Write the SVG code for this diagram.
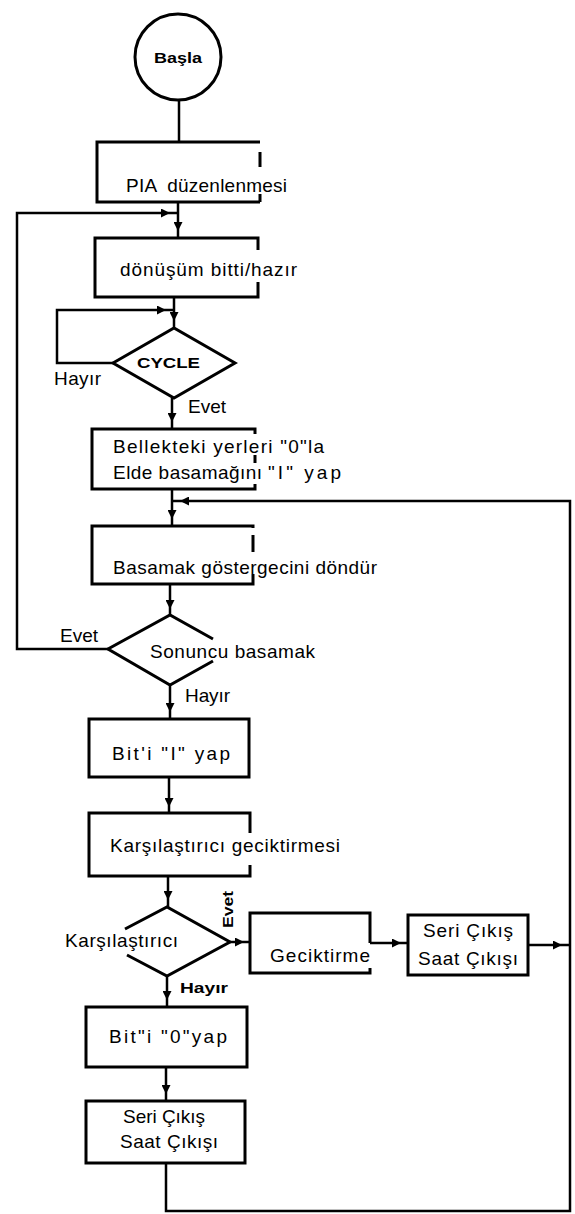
<svg xmlns="http://www.w3.org/2000/svg" width="575" height="1214" viewBox="0 0 575 1214">
<style>
.shape{fill:none;stroke:#000;stroke-width:3;stroke-linejoin:miter}
.conn{fill:none;stroke:#000;stroke-width:2.5}
.arr{marker-mid:url(#ah)}
.t{font-family:"Liberation Sans",Arial,sans-serif;font-size:19px;fill:#000}
.b{font-family:"Liberation Sans",Arial,sans-serif;font-weight:bold;fill:#000}
</style>
<defs>
<marker id="ah" viewBox="0 0 10 10" refX="10" refY="5" markerWidth="10" markerHeight="9" markerUnits="userSpaceOnUse" orient="auto">
<path d="M0,0 L10,5 L0,10 Z" fill="#000"/>
</marker>
</defs>
<rect width="575" height="1214" fill="#fff"/>

<g id="connectors">
<path class="conn" d="M179,100 V142"/>
<path class="conn arr" d="M178,202 V231 V238"/>
<path class="conn" d="M108,649 H17 V213 H120"/>
<path class="conn arr" d="M120,213 H170 H178"/>
<path class="conn arr" d="M174,297 V321 V328"/>
<path class="conn" d="M113,363 H57 V310 H110"/>
<path class="conn arr" d="M110,310 H166 H174"/>
<path class="conn arr" d="M172,398 V422 V429"/>
<path class="conn arr" d="M172,489 V519 V526"/>
<path class="conn" d="M166,1163 V1211 H570 V501 H230"/>
<path class="conn arr" d="M230,501 H180 H172"/>
<path class="conn arr" d="M170,584 V609 V615"/>
<path class="conn arr" d="M170,685 V712 V719"/>
<path class="conn arr" d="M169,777 V807 V813"/>
<path class="conn arr" d="M168,876 V900 V907"/>
<path class="conn arr" d="M230,942 H244 H250"/>
<path class="conn arr" d="M370,943 H401 H408"/>
<path class="conn arr" d="M528,945 H562 H570"/>
<path class="conn arr" d="M167,976 V1000 V1007"/>
<path class="conn arr" d="M166,1067 V1094 V1101"/>
</g>

<g id="start">
<circle cx="178" cy="57" r="43" class="shape" stroke-width="2.5"/>
<text class="b" x="154" y="63" font-size="15" textLength="48" lengthAdjust="spacingAndGlyphs">Başla</text>
</g>

<g id="pia">
<path class="shape" d="M260,142 H97 V202 H260 M260,152 V167 M260,194 V202"/>
<text class="t" x="126" y="192" textLength="161" lengthAdjust="spacing" xml:space="preserve">PIA  düzenlenmesi</text>
</g>

<g id="donusum">
<path class="shape" d="M258,250 V238 H95 V297 H258 V282"/>
<text class="t" x="120" y="276" textLength="177" lengthAdjust="spacing">dönüşüm bitti/hazır</text>
</g>

<g id="cycle">
<polygon class="shape" points="113,363 174,328 235,363 174,398"/>
<text class="b" x="137" y="368" font-size="15" textLength="63" lengthAdjust="spacingAndGlyphs">CYCLE</text>
<text class="t" x="54" y="385" font-size="18" textLength="47" lengthAdjust="spacing">Hayır</text>
<text class="t" x="188" y="413" font-size="18" textLength="38" lengthAdjust="spacing">Evet</text>
</g>

<g id="bellek">
<path class="shape" d="M255,434 V429 H92 V489 H255 V484 M255,455 V463"/>
<text class="t" x="113" y="453" textLength="211" lengthAdjust="spacing">Bellekteki yerleri "0"la</text>
<text class="t" y="479"><tspan x="113" textLength="149" lengthAdjust="spacing">Elde basamağını</tspan><tspan x="268" textLength="73" lengthAdjust="spacing">"I" yap</tspan></text>
</g>

<g id="basamak">
<path class="shape" d="M253,528 V526 H92 V584 H253 V574 M253,535 V552"/>
<text class="t" x="113" y="574" textLength="264" lengthAdjust="spacing">Basamak göstergecini döndür</text>
</g>

<g id="sonuncu">
<path class="shape" d="M213,639 L170,615 L108,649 L170,685 L213,661"/>
<text class="t" x="150" y="658" textLength="165" lengthAdjust="spacing">Sonuncu basamak</text>
<text class="t" x="60" y="642" font-size="18" textLength="38" lengthAdjust="spacing">Evet</text>
<text class="t" x="185" y="702" font-size="18" textLength="45" lengthAdjust="spacing">Hayır</text>
</g>

<g id="bit1">
<rect class="shape" x="89" y="719" width="160" height="58"/>
<text class="t" x="112" y="760" textLength="118" lengthAdjust="spacing">Bit'i "I" yap</text>
</g>

<g id="karsgecik">
<path class="shape" d="M250,833 V813 H89 V876 H250 V865"/>
<text class="t" x="110" y="852" textLength="230" lengthAdjust="spacing">Karşılaştırıcı geciktirmesi</text>
</g>

<g id="karsilastirici">
<path class="shape" d="M125,929 L167,907 L230,942 L167,976 L127,955"/>
<text class="t" x="65" y="947" textLength="113" lengthAdjust="spacing">Karşılaştırıcı</text>
<text class="b" transform="translate(233,928) rotate(-90)" x="0" y="0" font-size="14" textLength="37" lengthAdjust="spacingAndGlyphs">Evet</text>
<text class="b" x="180" y="993" font-size="15" textLength="48" lengthAdjust="spacingAndGlyphs">Hayır</text>
</g>

<g id="geciktirme">
<path class="shape" d="M370,943 V913 H250 V973 H370 V968"/>
<text class="t" x="270" y="962" textLength="100" lengthAdjust="spacing">Geciktirme</text>
</g>

<g id="seri1">
<rect class="shape" x="408" y="915" width="120" height="60"/>
<text class="t" x="423" y="937" textLength="90" lengthAdjust="spacing">Seri Çıkış</text>
<text class="t" x="418" y="965" textLength="100" lengthAdjust="spacing">Saat Çıkışı</text>
</g>

<g id="bit0">
<rect class="shape" x="86" y="1007" width="161" height="60"/>
<text class="t" x="109" y="1043" textLength="118" lengthAdjust="spacing">Bit"i "0"yap</text>
</g>

<g id="seri2">
<rect class="shape" x="86" y="1101" width="159" height="62"/>
<text class="t" x="123" y="1123" textLength="82" lengthAdjust="spacing">Seri Çıkış</text>
<text class="t" x="120" y="1148" textLength="98" lengthAdjust="spacing">Saat Çıkışı</text>
</g>
</svg>
